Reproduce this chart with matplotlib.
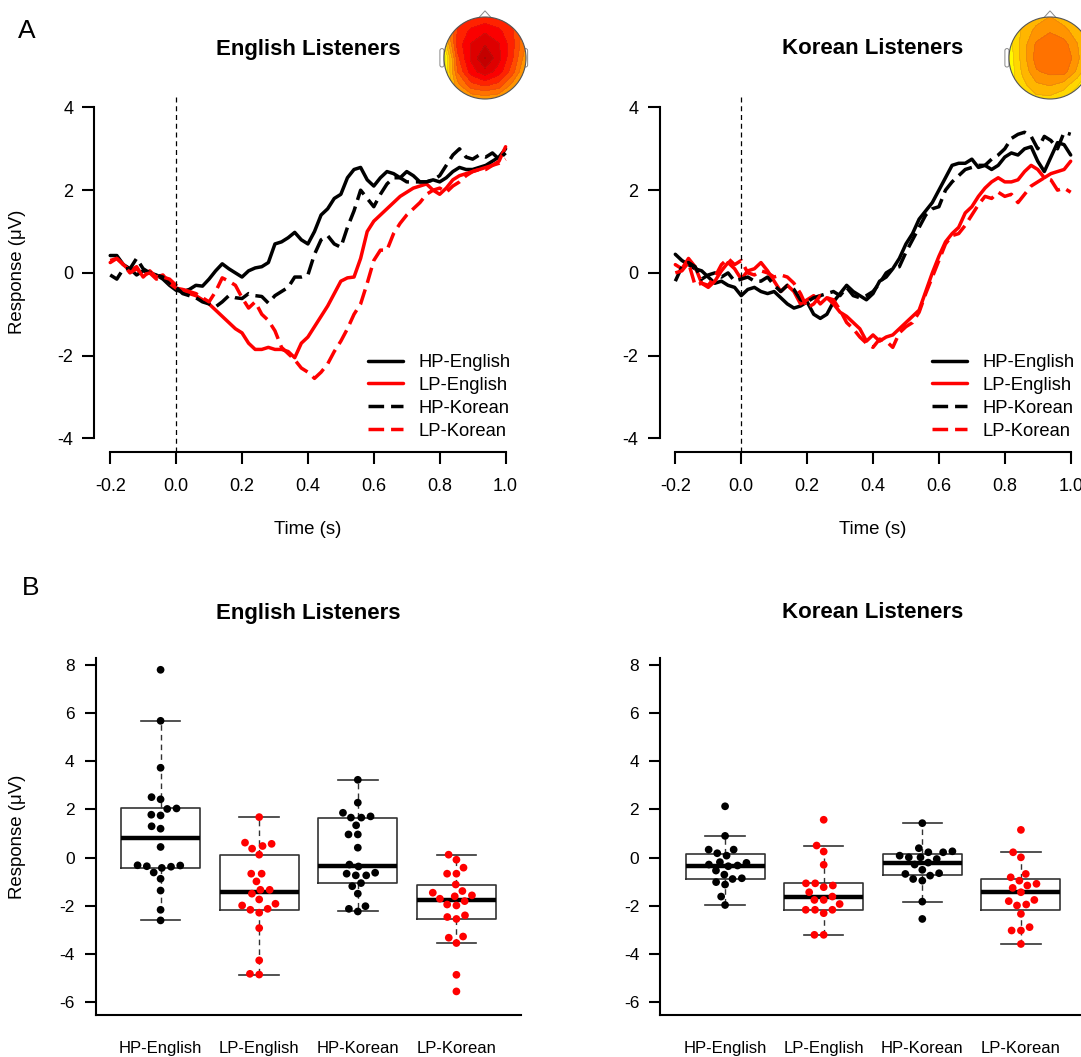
import matplotlib
matplotlib.use("Agg")
import matplotlib.pyplot as plt
import numpy as np
from matplotlib.colors import LinearSegmentedColormap
from matplotlib.patches import Circle, Polygon, FancyBboxPatch

plt.rcParams['font.family'] = ['Liberation Sans', 'DejaVu Sans']
plt.rcParams['axes.unicode_minus'] = False

W, H = 1081, 1057

# ---- panel A : ERP traces (time in s, response in uV) ----
time = np.round(np.arange(-0.2, 1.0001, 0.02), 2)
conditions = ['HP-English', 'LP-English', 'HP-Korean', 'LP-Korean']

en_hp_en = [0.42, 0.42, 0.20, 0.10, -0.05, 0.05, 0.00, -0.05, -0.15, -0.30,
            -0.42, -0.45, -0.40, -0.30, -0.32, -0.15, 0.05, 0.22, 0.10, 0.00,
            -0.10, 0.05, 0.12, 0.15, 0.25, 0.70, 0.75, 0.85, 0.98, 0.80,
            0.70, 1.00, 1.40, 1.55, 1.80, 1.90, 2.30, 2.50, 2.55, 2.25,
            2.10, 2.30, 2.45, 2.40, 2.30, 2.45, 2.35, 2.20, 2.20, 2.25,
            2.20, 2.30, 2.45, 2.55, 2.50, 2.50, 2.55, 2.60, 2.70, 2.80, 3.00]
en_lp_en = [0.25, 0.35, 0.20, 0.05, 0.15, -0.10, 0.05, -0.10, -0.05, -0.25,
            -0.37, -0.40, -0.50, -0.55, -0.65, -0.75, -0.90, -1.05, -1.20, -1.35,
            -1.45, -1.70, -1.85, -1.85, -1.80, -1.85, -1.85, -1.90, -2.05, -1.70,
            -1.55, -1.30, -1.05, -0.80, -0.50, -0.20, -0.12, -0.10, 0.35, 1.00,
            1.25, 1.40, 1.55, 1.70, 1.85, 1.95, 2.05, 2.10, 2.15, 2.00,
            1.90, 2.05, 2.25, 2.35, 2.40, 2.45, 2.50, 2.55, 2.60, 2.70, 3.05]
en_hp_ko = [-0.05, -0.15, 0.10, 0.10, 0.35, 0.10, 0.00, -0.05, -0.10, -0.25,
            -0.35, -0.50, -0.55, -0.60, -0.70, -0.75, -0.82, -0.70, -0.55, -0.60,
            -0.62, -0.50, -0.55, -0.57, -0.73, -0.55, -0.45, -0.35, -0.10, -0.10,
            -0.05, 0.45, 0.80, 0.90, 0.70, 0.62, 1.10, 1.50, 2.00, 1.80,
            1.60, 1.90, 2.15, 2.30, 2.30, 2.20, 2.20, 2.20, 2.20, 2.25,
            2.35, 2.60, 2.85, 3.00, 2.80, 2.75, 2.85, 2.80, 2.90, 2.75, 2.90]
en_lp_ko = [0.30, 0.35, 0.20, 0.00, 0.10, -0.05, 0.00, -0.15, -0.10, -0.15,
            -0.30, -0.40, -0.45, -0.50, -0.60, -0.70, -0.45, -0.12, -0.20, -0.30,
            -0.60, -0.85, -0.70, -1.00, -1.15, -1.40, -1.80, -1.95, -2.10, -2.30,
            -2.40, -2.55, -2.40, -2.20, -1.90, -1.65, -1.35, -1.00, -0.75, -0.25,
            0.30, 0.55, 0.55, 0.95, 1.20, 1.40, 1.55, 1.70, 1.90, 2.00,
            2.05, 1.95, 2.10, 2.20, 2.35, 2.45, 2.50, 2.50, 2.60, 2.65, 2.75]

ko_hp_en = [0.45, 0.30, 0.20, 0.10, 0.05, -0.10, -0.25, -0.20, -0.30, -0.35,
            -0.55, -0.40, -0.35, -0.45, -0.50, -0.45, -0.60, -0.75, -0.85, -0.80,
            -0.70, -1.00, -1.10, -1.00, -0.70, -0.50, -0.30, -0.45, -0.55, -0.65,
            -0.50, -0.20, -0.10, 0.10, 0.35, 0.70, 0.95, 1.30, 1.50, 1.70,
            2.00, 2.30, 2.60, 2.65, 2.65, 2.75, 2.55, 2.60, 2.50, 2.60,
            2.80, 2.90, 2.85, 3.00, 3.05, 2.70, 2.45, 2.80, 3.15, 3.10, 2.85]
ko_lp_en = [0.20, 0.10, 0.35, 0.15, -0.25, -0.35, -0.20, 0.05, 0.25, 0.10,
            -0.15, 0.05, 0.10, 0.25, 0.05, -0.20, -0.45, -0.30, -0.45, -0.75,
            -0.65, -0.55, -0.75, -0.60, -0.75, -0.95, -1.05, -1.20, -1.35, -1.65,
            -1.50, -1.65, -1.55, -1.50, -1.35, -1.20, -1.05, -0.90, -0.45, 0.00,
            0.40, 0.75, 0.95, 1.10, 1.45, 1.60, 1.85, 2.05, 2.20, 2.30,
            2.20, 2.20, 2.25, 2.45, 2.60, 2.50, 2.30, 2.40, 2.45, 2.50, 2.70]
ko_hp_ko = [-0.20, 0.15, 0.25, 0.15, -0.15, -0.05, 0.00, -0.10, 0.00, -0.20,
            -0.15, -0.10, -0.20, -0.20, -0.10, -0.30, -0.45, -0.30, -0.40, -0.65,
            -0.70, -0.60, -0.55, -0.50, -0.45, -0.55, -0.35, -0.55, -0.60, -0.55,
            -0.45, -0.25, 0.00, 0.10, 0.15, 0.50, 0.80, 1.10, 1.40, 1.55,
            1.60, 2.00, 2.20, 2.35, 2.50, 2.55, 2.60, 2.60, 2.75, 2.85,
            3.00, 3.25, 3.35, 3.40, 3.30, 3.00, 3.30, 3.20, 3.00, 3.40, 3.35]
ko_lp_ko = [0.00, 0.05, 0.25, -0.30, -0.25, -0.30, -0.10, 0.20, 0.35, 0.20,
            0.30, 0.00, -0.05, 0.05, 0.00, -0.10, -0.05, -0.10, -0.25, -0.50,
            -0.85, -0.75, -0.55, -0.60, -0.65, -0.90, -1.20, -1.35, -1.55, -1.70,
            -1.80, -1.60, -1.65, -1.80, -1.45, -1.30, -1.20, -0.95, -0.50, -0.10,
            0.30, 0.70, 0.90, 0.95, 1.15, 1.40, 1.65, 1.85, 1.80, 1.95,
            1.85, 1.90, 1.70, 1.90, 2.10, 2.20, 2.30, 2.25, 2.00, 2.05, 1.95]

# ---- panel B : per-subject responses (uV) ----
eng_hp_en = [7.80, 5.68, 3.73, 2.51, 2.42, 2.04, 2.02, 1.78, 1.75, 1.30, 1.20,
             0.44, -0.32, -0.33, -0.36, -0.38, -0.43, -0.62, -0.88, -1.37, -2.17, -2.61]
eng_lp_en = [1.68, 0.62, 0.57, 0.48, 0.37, 0.12, -0.67, -0.67, -0.99, -1.34, -1.34,
             -1.50, -1.74, -1.92, -1.99, -2.13, -2.17, -2.29, -2.93, -4.27, -4.83, -4.86]
eng_hp_ko = [3.23, 2.28, 1.86, 1.71, 1.66, 1.66, 1.34, 0.96, 0.96, 0.41, -0.29,
             -0.37, -0.63, -0.67, -0.74, -0.74, -1.06, -1.19, -1.50, -2.02, -2.13, -2.24]
eng_lp_ko = [0.12, -0.09, -0.42, -0.67, -0.67, -1.12, -1.39, -1.46, -1.57, -1.61, -1.71,
             -1.81, -1.95, -1.99, -2.40, -2.47, -2.55, -3.28, -3.33, -3.55, -4.87, -5.56]
kor_hp_en = [2.13, 0.90, 0.33, 0.33, 0.18, 0.08, -0.19, -0.22, -0.29, -0.33,
             -0.36, -0.54, -0.71, -0.86, -0.89, -1.02, -1.12, -1.62, -1.97]
kor_lp_en = [1.57, 0.50, 0.25, -0.30, -1.07, -1.07, -1.16, -1.23, -1.44, -1.62,
             -1.76, -1.76, -1.93, -2.17, -2.17, -2.17, -2.31, -3.21, -3.21]
kor_hp_ko = [1.43, 0.39, 0.26, 0.22, 0.22, 0.08, 0.01, 0.01, -0.06, -0.21,
             -0.29, -0.51, -0.65, -0.68, -0.75, -0.89, -0.96, -1.83, -2.55]
kor_lp_ko = [1.15, 0.22, 0.01, -0.68, -0.82, -0.96, -1.09, -1.16, -1.26, -1.44,
             -1.76, -1.81, -1.95, -1.99, -2.34, -2.89, -3.03, -3.03, -3.59]

# ---- scalp maps (relative amplitude, 7x7 grid, top row = front) ----
topo_en = [[0.44, 0.52, 0.57, 0.59, 0.57, 0.52, 0.44],
           [0.35, 0.58, 0.66, 0.70, 0.66, 0.58, 0.44],
           [0.22, 0.60, 0.72, 0.78, 0.72, 0.60, 0.42],
           [0.08, 0.55, 0.73, 0.86, 0.74, 0.58, 0.38],
           [0.12, 0.50, 0.68, 0.76, 0.68, 0.53, 0.33],
           [0.18, 0.40, 0.54, 0.58, 0.54, 0.40, 0.28],
           [0.22, 0.30, 0.36, 0.38, 0.36, 0.30, 0.26]]
topo_ko = [[0.20, 0.26, 0.32, 0.36, 0.32, 0.26, 0.20],
           [0.20, 0.30, 0.38, 0.42, 0.38, 0.32, 0.24],
           [0.18, 0.32, 0.44, 0.48, 0.46, 0.36, 0.24],
           [0.16, 0.32, 0.46, 0.50, 0.50, 0.38, 0.22],
           [0.16, 0.30, 0.42, 0.45, 0.46, 0.34, 0.18],
           [0.18, 0.26, 0.34, 0.36, 0.32, 0.22, 0.10],
           [0.18, 0.22, 0.26, 0.26, 0.22, 0.14, 0.06]]


def px_box(left, top, right, bottom):
    return [left / W, 1 - bottom / H, (right - left) / W, (bottom - top) / H]


def fig_text(x, y, s, **kw):
    fig.text(x / W, 1 - y / H, s, ha=kw.pop('ha', 'center'), va=kw.pop('va', 'center'), **kw)


def fivenum(v):
    x = np.sort(np.asarray(v, float))
    n = len(x)
    n4 = np.floor((n + 3) / 2) / 2
    d = np.array([1, n4, (n + 1) / 2, n + 1 - n4, n])
    return 0.5 * (x[np.floor(d).astype(int) - 1] + x[np.ceil(d).astype(int) - 1])


def box_stats(v):
    lo, q1, med, q3, hi = fivenum(v)
    iqr = q3 - q1
    arr = np.asarray(v, float)
    whishi = arr[arr <= q3 + 1.5 * iqr].max()
    whislo = arr[arr >= q1 - 1.5 * iqr].min()
    return dict(med=med, q1=q1, q3=q3, whislo=whislo, whishi=whishi, fliers=[])


def swarm(values, xscale, yscale, d=9.0):
    # simple beeswarm: place points (in pixel space) as close to the centre as possible
    v = np.asarray(values, float)
    order = np.argsort(v)
    placed = []
    xs = np.zeros(len(v))
    for i in order:
        y = v[i] * yscale
        cands = [0.0]
        for (px, py) in placed:
            dy = abs(y - py)
            if dy < d:
                dx = np.sqrt(d * d - dy * dy)
                cands += [px + dx, px - dx]
        cands = sorted(cands, key=lambda c: (abs(c), c))
        for c in cands:
            if all((c - px) ** 2 + (y - py) ** 2 >= d * d - 1e-6 for (px, py) in placed):
                xs[i] = c
                placed.append((c, y))
                break
    return xs / xscale


heat = LinearSegmentedColormap.from_list(
    'heat', ['#7fff00', '#ffff00', '#ffb000', '#ff6000', '#ff0000', '#c00000', '#800000'])


def topomap(cx, cy, grid):
    r = 41
    s = r * 1.2
    ax = fig.add_axes(px_box(cx - s, cy - s, cx + s, cy + s))
    ax.set_xlim(-1.2, 1.2)
    ax.set_ylim(-1.2, 1.2)
    ax.set_aspect('equal')
    ax.axis('off')
    # ears and nose
    for side in (-1, 1):
        ax.add_patch(FancyBboxPatch((side * 1.0 - 0.06 - (0.04 if side < 0 else 0), -0.22), 0.1, 0.45,
                                    boxstyle='round,pad=0,rounding_size=0.05',
                                    fc='white', ec='#888888', lw=0.7, zorder=1))
    ax.add_patch(Polygon([[-0.17, 0.96], [0.0, 1.15], [0.17, 0.96]], closed=True,
                         fc='white', ec='#888888', lw=0.7, zorder=1))
    g = np.array(grid)
    gx = np.linspace(-1, 1, g.shape[1])
    gy = np.linspace(1, -1, g.shape[0])
    X, Y = np.meshgrid(gx, gy)
    clip = Circle((0, 0), 1.0, transform=ax.transData)
    cf = ax.contourf(X, Y, g, levels=np.linspace(0, 1, 15), cmap=heat, zorder=2)
    cl = ax.contour(X, Y, g, levels=np.linspace(0, 1, 15), colors='#8a5a40', linewidths=0.3,
                    alpha=0.35, zorder=3)
    cf.set_clip_path(clip)
    cl.set_clip_path(clip)
    ax.add_patch(Circle((0, 0), 1.0, fc='none', ec='#555555', lw=0.8, zorder=4))


def erp_panel(left, title, series, topo_cx, topo_grid, leg_x):
    ax = fig.add_axes(px_box(left, 94.2, left + 427, 451.6))
    styles = [('black', '-'), ('red', '-'), ('black', (0, (4.5, 2.0))), ('red', (0, (4.5, 2.0)))]
    handles = []
    for vals, (col, ls), lab in zip(series, styles, conditions):
        h, = ax.plot(time, vals, color=col, ls=ls, lw=2.5, label=lab,
                     solid_capstyle='round', dash_capstyle='butt')
        handles.append(h)
    ax.axvline(0, color='black', lw=0.9, ls=(0, (4, 3)))
    ax.set_xlim(-0.248, 1.048)
    ax.set_ylim(-4.32, 4.32)
    ax.set_xticks(np.round(np.arange(-0.2, 1.01, 0.2), 1))
    ax.set_xticklabels(['%.1f' % t for t in np.arange(-0.2, 1.01, 0.2)])
    ax.set_yticks([-4, -2, 0, 2, 4])
    for s in ('top', 'right'):
        ax.spines[s].set_visible(False)
    ax.spines['left'].set_bounds(-4, 4)
    ax.spines['bottom'].set_bounds(-0.2, 1.0)
    for s in ('left', 'bottom'):
        ax.spines[s].set_linewidth(1.5)
    ax.tick_params(direction='out', length=8.3, width=1.5, labelsize=13)
    ax.tick_params(axis='x', pad=11)
    ax.tick_params(axis='y', pad=7)
    ax.patch.set_alpha(0)
    ax.legend(handles=handles, loc='upper left', bbox_to_anchor=(leg_x / W, 1 - 354 / H),
              bbox_transform=fig.transFigure, frameon=False, fontsize=13.2,
              handlelength=1.9, handletextpad=0.87, labelspacing=0.32,
              borderpad=0, borderaxespad=0)
    fig_text(left + 213.5, 49, title, fontsize=16, fontweight='bold')
    fig_text(left + 213.5, 530, 'Time (s)', fontsize=13.4)
    topomap(topo_cx, 58, topo_grid)
    return ax


def box_panel(left, title, groups):
    ax = fig.add_axes(px_box(left, 658, left + 426, 1015))
    pos = np.arange(1, 5)
    stats = [box_stats(g) for g in groups]
    ax.bxp(stats, positions=pos, widths=0.8, showfliers=False, capwidths=0.4,
           boxprops=dict(color='#333333', lw=1.2),
           medianprops=dict(color='black', lw=3.2, solid_capstyle='butt'),
           whiskerprops=dict(color='#333333', lw=1.0, ls=(0, (4, 3))),
           capprops=dict(color='#333333', lw=1.2))
    xscale = 426 / 4.32
    yscale = 357 / (8.29 + 6.54)
    colors = ['black', 'red', 'black', 'red']
    for p, g, c in zip(pos, groups, colors):
        off = swarm(g, xscale, yscale, d=9.3)
        ax.scatter(p + off, g, s=31, color=c, edgecolors='none', zorder=5)
    ax.set_xlim(0.34, 4.66)
    ax.set_ylim(-6.54, 8.29)
    ax.set_yticks([-6, -4, -2, 0, 2, 4, 6, 8])
    ax.set_xticks(pos)
    ax.set_xticklabels(conditions)
    for s in ('top', 'right'):
        ax.spines[s].set_visible(False)
    for s in ('left', 'bottom'):
        ax.spines[s].set_linewidth(1.5)
    ax.tick_params(axis='y', direction='out', length=8, width=1.5, labelsize=12.5, pad=7)
    ax.tick_params(axis='x', length=0, labelsize=12, pad=19)
    fig_text(left + 213, 613, title, fontsize=16, fontweight='bold')
    return ax


fig = plt.figure(figsize=(W / 100, H / 100), dpi=100)

erp_panel(94.4, 'English Listeners', [en_hp_en, en_lp_en, en_hp_ko, en_lp_ko], 485, topo_en, 368)
erp_panel(659.5, 'Korean Listeners', [ko_hp_en, ko_lp_en, ko_hp_ko, ko_lp_ko], 1050, topo_ko, 932)

box_panel(95.5, 'English Listeners', [eng_hp_en, eng_lp_en, eng_hp_ko, eng_lp_ko])
box_panel(660, 'Korean Listeners', [kor_hp_en, kor_lp_en, kor_hp_ko, kor_lp_ko])

fig_text(18, 272, 'Response (\u03bcV)', fontsize=13.4, rotation=90)
fig_text(18, 837, 'Response (\u03bcV)', fontsize=13.4, rotation=90)
fig_text(27, 31, 'A', fontsize=19)
fig_text(31, 588, 'B', fontsize=19)

fig.savefig('out.png', dpi=100)
